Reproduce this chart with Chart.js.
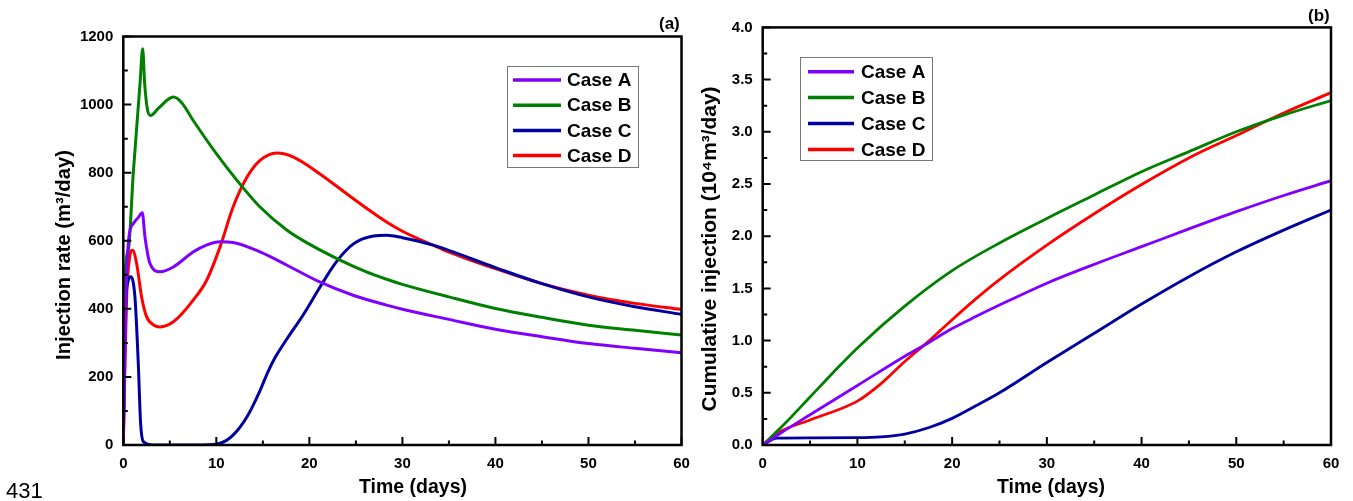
<!DOCTYPE html>
<html>
<head>
<meta charset="utf-8">
<script src="https://cdn.jsdelivr.net/npm/chart.js@4.4.1/dist/chart.umd.min.js"></script>
<style>
  html, body { margin: 0; padding: 0; background: #fff; }
  body { width: 1353px; height: 501px; position: relative; overflow: hidden; font-family: "Liberation Sans", Arial, sans-serif; }
  canvas { position: absolute; top: 0; }
  #rate { left: 0; }
  #cum { left: 700px; }
  .tag { position: absolute; font-weight: bold; font-size: 17px; line-height: 1; }
  #page { position: absolute; left: 6px; top: 480px; font-size: 22px; line-height: 1; }
</style>
</head>
<body>
<canvas id="rate" width="700" height="501"></canvas>
<canvas id="cum" width="653" height="501"></canvas>
<div class="tag" style="left:659px; top:15px;">(a)</div>
<div class="tag" style="left:1308px; top:7px;">(b)</div>
<div id="page">431</div>

<script>
// Casos y colores
const cases = ['Case A', 'Case B', 'Case C', 'Case D']
const colors = ['#8000FF', '#008000', '#0000A0', '#FF0000']

// Panel (a): tiempo (dias) y caudal de inyeccion (m3/dia)
const tA_rate = [0, 0.3, 0.6, 1.07, 1.6, 2.04, 2.33, 2.87, 3.94, 5.38, 7.5, 9, 10.4, 11.8, 14.7, 17.6, 21.1, 24.7, 28.3, 30, 35, 40, 45, 50, 55, 60]
const caseA_rate = [0, 450, 610, 650, 668, 682, 611, 533, 509, 523, 567, 588, 597, 595, 567, 528, 479, 440, 411, 399, 369, 340, 318, 298, 284, 271]

const tB_rate = [0, 0.03, 0.54, 1.07, 1.8, 2.08, 2.3, 2.6, 2.94, 3.8, 5.38, 6.3, 7.5, 10, 12.2, 14.7, 17.6, 20, 23.3, 26, 28.3, 30, 35, 40, 45, 50, 55, 60]
const caseB_rate = [0, 350, 572, 798, 1062, 1164, 1060, 985, 968, 990, 1022, 1005, 954, 856, 778, 699, 631, 590, 543, 510, 487, 472, 435, 401, 375, 352, 337, 323]

const tC_rate = [0, 0.2, 0.5, 0.79, 1.25, 1.61, 1.86, 2.15, 3.2, 8.6, 10.4, 11.8, 13.3, 14.7, 15.5, 16.3, 17.6, 19.4, 21.1, 22.9, 24.7, 26.9, 28.3, 30, 33.3, 40, 45, 50, 55, 60]
const caseC_rate = [0, 380, 480, 494, 435, 240, 64, 10, 0, 0, 5, 29, 83, 160, 212, 256, 312, 385, 462, 538, 590, 614, 616, 609, 587, 521, 474, 435, 406, 384]

const tD_rate = [0, 0.18, 0.36, 0.65, 1.0, 1.43, 1.97, 2.5, 3.3, 3.94, 5.38, 7.5, 8.96, 10.4, 11.8, 13.3, 14.7, 16.5, 18.3, 21.1, 24.7, 28.3, 30, 33.3, 35, 40, 45, 50, 55, 60]
const caseD_rate = [0, 240, 435, 545, 572, 533, 435, 377, 352, 347, 362, 425, 484, 582, 699, 787, 836, 858, 846, 797, 724, 655, 628, 587, 567, 518, 474, 440, 416, 398]

// Panel (b): inyeccion acumulada (10^4 m3)
const tA_cum = [0, 2, 5, 10, 15, 17.5, 20, 22.5, 25, 30, 35, 40, 45, 50, 55, 60]
const caseA_cum = [0, 0.12, 0.29, 0.57, 0.85, 0.98, 1.115, 1.23, 1.34, 1.55, 1.73, 1.90, 2.07, 2.235, 2.39, 2.532]

const tB_cum = [0, 2.5, 5, 7.5, 10, 15, 20, 25, 30, 35, 40, 45, 50, 55, 60]
const caseB_cum = [0, 0.22, 0.46, 0.70, 0.93, 1.33, 1.67, 1.935, 2.17, 2.395, 2.618, 2.81, 3.0, 3.16, 3.30]

const tC_cum = [0, 1.5, 5, 10, 12.5, 15, 17.5, 20, 22.5, 25, 30, 35, 40, 45, 50, 55, 60]
const caseC_cum = [0, 0.065, 0.068, 0.07, 0.078, 0.105, 0.165, 0.255, 0.375, 0.50, 0.79, 1.07, 1.35, 1.612, 1.85, 2.058, 2.251]

const tD_cum = [0, 1.8, 5, 10, 12.4, 15, 17.6, 20, 22.5, 25, 30, 35, 40, 45, 50, 55, 60]
const caseD_cum = [0, 0.125, 0.24, 0.42, 0.58, 0.80, 1.0, 1.2, 1.40, 1.585, 1.915, 2.215, 2.495, 2.75, 2.965, 3.18, 3.375]

const FONT = '"Liberation Sans", Arial, sans-serif'

// Armo los puntos {x, y} de cada serie
const puntos = (t, v) => t.map((x, i) => ({ x, y: v[i] }))

const datasets = (series, width) => series.map(([t, v], i) => ({
  label: cases[i],
  data: puntos(t, v),
  borderColor: colors[i],
  backgroundColor: colors[i],
  borderWidth: width,
  pointRadius: 0,
  cubicInterpolationMode: 'monotone',
  fill: false,
}))

// Marco completo y ticks hacia adentro (mayores y menores)
const marco = {
  id: 'marco',
  afterDraw(chart) {
    const { ctx, chartArea: a, scales: { x, y } } = chart
    ctx.save()
    ctx.strokeStyle = '#000'
    ctx.lineWidth = 2
    const marcas = (scale, dibujar) => {
      const vals = scale.ticks.map(t => t.value)
      vals.forEach((v, i) => {
        dibujar(scale.getPixelForValue(v), 8)
        if (i < vals.length - 1) dibujar(scale.getPixelForValue((v + vals[i + 1]) / 2), 4.5)
      })
    }
    ctx.beginPath()
    marcas(x, (px, len) => { ctx.moveTo(px, a.bottom); ctx.lineTo(px, a.bottom - len) })
    marcas(y, (py, len) => { ctx.moveTo(a.left, py); ctx.lineTo(a.left + len, py) })
    ctx.stroke()
    ctx.lineWidth = 2.5
    ctx.strokeRect(a.left, a.top, a.right - a.left, a.bottom - a.top)
    ctx.restore()
  }
}

// Titulos de los ejes (un poco corridos como en el original)
const titulos = {
  id: 'titulos',
  afterDraw(chart, args, o) {
    const { ctx } = chart
    ctx.save()
    ctx.fillStyle = '#000'
    ctx.textAlign = 'center'
    ctx.textBaseline = 'alphabetic'
    ctx.font = `bold ${o.x.size}px ${FONT}`
    ctx.fillText(o.x.text, o.x.cx, o.x.base)
    ctx.translate(o.y.base, o.y.cy)
    ctx.rotate(-Math.PI / 2)
    ctx.font = `bold ${o.y.size}px ${FONT}`
    ctx.fillText(o.y.text, 0, 0)
    ctx.restore()
  }
}

// Leyenda dentro del area del grafico
const leyenda = {
  id: 'leyenda',
  afterDraw(chart, args, o) {
    const { ctx } = chart
    ctx.save()
    ctx.fillStyle = '#fff'
    ctx.fillRect(o.left, o.top, o.width, o.height)
    ctx.strokeStyle = '#777'
    ctx.lineWidth = 1
    ctx.strokeRect(o.left + 0.5, o.top + 0.5, o.width, o.height)
    ctx.font = 'bold 19px ' + FONT
    ctx.textBaseline = 'middle'
    chart.data.datasets.forEach((ds, i) => {
      const yy = o.first + i * o.gap
      ctx.strokeStyle = ds.borderColor
      ctx.lineWidth = 3.5
      ctx.beginPath()
      ctx.moveTo(o.lineX, yy)
      ctx.lineTo(o.lineX + o.lineLen, yy)
      ctx.stroke()
      ctx.fillStyle = '#000'
      ctx.fillText(ds.label, o.textX, yy + 1)
    })
    ctx.restore()
  }
}

const opciones = (cfg) => ({
  responsive: false,
  animation: false,
  layout: { padding: cfg.padding },
  plugins: {
    legend: { display: false },
    tooltip: { enabled: false },
    leyenda: cfg.leyenda,
    titulos: cfg.titulos,
  },
  scales: {
    x: {
      type: 'linear',
      min: 0, max: 60,
      grid: { display: false, drawTicks: false },
      border: { display: false },
      ticks: { stepSize: 10, autoSkip: false, maxRotation: 0, padding: 10, color: '#000', font: { family: FONT, size: 15, weight: 'bold' } },
      afterFit: s => { s.height = 56 },
    },
    y: {
      type: 'linear',
      min: cfg.yMin, max: cfg.yMax,
      grid: { display: false, drawTicks: false },
      border: { display: false },
      ticks: { stepSize: cfg.yStep, autoSkip: false, padding: 10, color: '#000', font: { family: FONT, size: 15, weight: 'bold' }, callback: cfg.yFmt },
      afterFit: s => { s.width = cfg.yWidth },
    }
  }
})

window.addEventListener('load', () => {
  new Chart(document.getElementById('rate'), {
    type: 'line',
    data: {
      datasets: datasets([[tA_rate, caseA_rate], [tB_rate, caseB_rate], [tC_rate, caseC_rate], [tD_rate, caseD_rate]], 3)
    },
    options: opciones({
      padding: { left: 0, top: 36.5, right: 18.5, bottom: 0 },
      yMin: 0, yMax: 1200, yStep: 200,
      yFmt: v => String(v),
      yWidth: 123.3,
      titulos: {
        x: { text: 'Time (days)', size: 19.5, cx: 413, base: 493 },
        y: { text: 'Injection rate (m³/day)', size: 20.2, base: 69.5, cy: 255 },
      },
      leyenda: { left: 507, top: 66, width: 131, height: 101, first: 80, gap: 25.2, lineX: 513, lineLen: 48, textX: 567 },
    }),
    plugins: [marco, titulos, leyenda]
  })

  new Chart(document.getElementById('cum'), {
    type: 'line',
    data: {
      datasets: datasets([[tA_cum, caseA_cum], [tB_cum, caseB_cum], [tC_cum, caseC_cum], [tD_cum, caseD_cum]], 2.8)
    },
    options: opciones({
      padding: { left: 0, top: 27.4, right: 22, bottom: 0 },
      yMin: 0, yMax: 4, yStep: 0.5,
      yFmt: v => v.toFixed(1),
      yWidth: 62.7,
      titulos: {
        x: { text: 'Time (days)', size: 19.5, cx: 351, base: 493 },
        y: { text: 'Cumulative injection (10⁴m³/day)', size: 20.9, base: 15.5, cy: 249 },
      },
      leyenda: { left: 100, top: 57, width: 132, height: 103, first: 71.7, gap: 25.9, lineX: 108, lineLen: 46, textX: 161 },
    }),
    plugins: [marco, titulos, leyenda]
  })
})
</script>
</body>
</html>
